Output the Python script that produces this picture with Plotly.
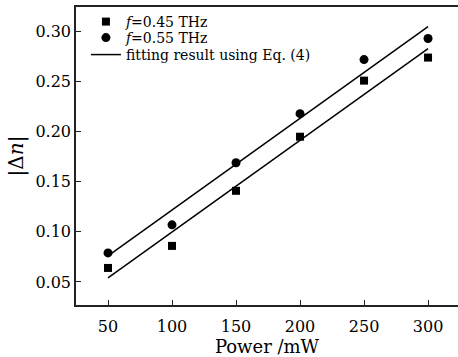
import plotly.graph_objects as go

power = [50, 100, 150, 200, 250, 300]
dn_045 = [0.064, 0.086, 0.141, 0.195, 0.251, 0.274]
dn_055 = [0.079, 0.107, 0.169, 0.218, 0.272, 0.293]
fit_x = [50, 300]
fit_045 = [0.054, 0.283]
fit_055 = [0.076, 0.305]
x_ticks = [50, 100, 150, 200, 250, 300]
y_ticks = [0.05, 0.10, 0.15, 0.20, 0.25, 0.30]

FONT = "DejaVu Serif"

fig = go.Figure()
fig.add_trace(go.Scatter(x=power, y=dn_045, mode="markers", name="<i>f</i>=0.45 THz",
                         legend="legend",
                         marker=dict(symbol="square", size=8, color="black")))
fig.add_trace(go.Scatter(x=power, y=dn_055, mode="markers", name="<i>f</i>=0.55 THz",
                         legend="legend2",
                         marker=dict(symbol="circle", size=9, color="black")))
fig.add_trace(go.Scatter(x=fit_x, y=fit_055, mode="lines", name="fitting result using Eq. (4)",
                         legend="legend3",
                         line=dict(color="black", width=1.5)))
fig.add_trace(go.Scatter(x=fit_x, y=fit_045, mode="lines", showlegend=False,
                         line=dict(color="black", width=1.5)))

def leg(yv):
    return dict(x=0.026, y=yv, xanchor="left", yanchor="middle",
                bgcolor="rgba(0,0,0,0)", font=dict(size=14, family=FONT),
                borderwidth=0)

fig.update_layout(
    width=458, height=357,
    margin=dict(l=76, r=0, t=7, b=52),
    paper_bgcolor="white", plot_bgcolor="white",
    font=dict(family=FONT, color="black", size=16),
    legend=leg(0.9497), legend2=leg(0.896), legend3=leg(0.839),
    xaxis=dict(range=[25, 323.4], tickvals=x_ticks, ticks="inside", ticklen=5,
               showline=True, linecolor="#222", linewidth=1.5, mirror=True,
               showgrid=False, zeroline=False, tickcolor="#222",
               ticklabelstandoff=6,
               title=dict(text="Power /mW", font=dict(size=18), standoff=4)),
    yaxis=dict(range=[0.027, 0.3245], tickvals=y_ticks, tickformat=".2f",
               ticks="inside", ticklen=5,
               showline=True, linecolor="#222", linewidth=1.5, mirror=False,
               showgrid=False, zeroline=False, tickcolor="#222",
               title=dict(text="|Δ<i>n</i>|", font=dict(size=20), standoff=6)),
)

fig.write_html("out.html")
